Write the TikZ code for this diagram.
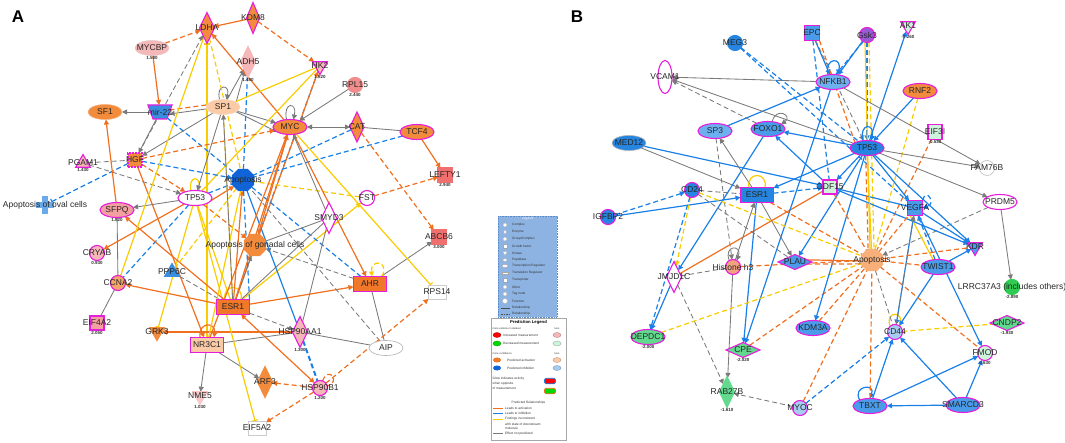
\documentclass[tikz,border=0pt]{standalone}
\usepackage{fontspec}
\setmainfont{Liberation Sans}
\usetikzlibrary{shapes.geometric,shapes.misc,arrows.meta}
\pgfdeclarelayer{bg}\pgfsetlayers{bg,main}
\definecolor{mag}{HTML}{E61EDC}
\definecolor{onode}{HTML}{F28C3C}
\definecolor{onodeb}{HTML}{F7B27E}
\definecolor{onode2}{HTML}{F07828}
\definecolor{peach}{HTML}{FBCBA8}
\definecolor{peachb}{HTML}{F5D9C4}
\definecolor{peachB}{HTML}{F8B07A}
\definecolor{pinkn}{HTML}{F5B7B7}
\definecolor{pinkb}{HTML}{E8C8C8}
\definecolor{pinkm}{HTML}{F4A0A0}
\definecolor{pinkl}{HTML}{F8C8C8}
\definecolor{oranL}{HTML}{F5A56A}
\definecolor{salm}{HTML}{F08C8C}
\definecolor{salmd}{HTML}{F07070}
\definecolor{bluedk}{HTML}{1064D8}
\definecolor{bluen}{HTML}{3A8EE0}
\definecolor{bluel}{HTML}{6AAAE8}
\definecolor{blueB}{HTML}{2585E0}
\definecolor{blueM}{HTML}{4A9CEB}
\definecolor{blueL}{HTML}{6DB0F0}
\definecolor{blueP}{HTML}{A5CDF2}
\definecolor{purp}{HTML}{9A5AD8}
\definecolor{greenL}{HTML}{CDF3DA}
\definecolor{greenM}{HTML}{62DA8E}
\definecolor{greenB}{HTML}{2ECC50}
\definecolor{histc}{HTML}{F3A27E}
\definecolor{eor}{HTML}{F07020}
\definecolor{ebl}{HTML}{1A80E8}
\definecolor{eye}{HTML}{F8CC00}
\definecolor{egr}{HTML}{7A7A7A}
\definecolor{legf}{HTML}{8DB3E2}
\definecolor{legb}{HTML}{5B8ACB}
\newcommand\G[5][]{\node[#2,label={center:#5},#1] (#3) at (#4) {};}
\tikzset{
 gene/.style={inner sep=0pt, outer sep=0pt, line width=1.1pt, draw=mag},
 ell/.style={gene, ellipse, minimum width=34pt, minimum height=15pt},
 rect/.style={gene, rectangle, minimum width=33pt, minimum height=15pt},
 dia/.style={gene, diamond, minimum width=15pt, minimum height=31pt},
 hdia/.style={gene, diamond, minimum width=34pt, minimum height=15pt},
 cir/.style={gene, circle, minimum size=15pt},
 sq/.style={gene, rectangle, minimum size=14pt},
 tdown/.style={gene, regular polygon, regular polygon sides=3, shape border rotate=180, minimum size=17pt},
 tup/.style={gene, regular polygon, regular polygon sides=3, minimum size=17pt},
 oct/.style={gene, regular polygon, regular polygon sides=8, minimum size=23pt},
 trap/.style={gene, trapezium, inner sep=1pt, trapezium angle=70, shape border rotate=180, minimum width=16pt, minimum height=14pt},
 chamf/.style={gene, chamfered rectangle, chamfered rectangle xsep=2.5pt, minimum width=14pt, minimum height=15pt},
 lab/.style={font=\fontsize{8.5}{9}\selectfont, text=black!85},
 val/.style={font=\fontsize{4.5}{5}\selectfont\bfseries, text=black!80, inner sep=1pt},
 every label/.style={lab},
 ln/.style={line width=1.2pt},
 co/.style={ln, draw=eor}, cb/.style={ln, draw=ebl}, cy/.style={ln, draw=eye},
 cg/.style={line width=0.85pt, draw=egr},
 ds/.style={dash pattern=on 5pt off 3pt},
 ar/.style={-{Triangle[length=5pt,width=5pt]}},
 ba/.style={{Triangle[length=5pt,width=5pt]}-{Triangle[length=5pt,width=5pt]}},
 ih/.style={-{Bar[width=6pt]}},
 lt/.style={font=\fontsize{3.2}{3.5}\selectfont, text=black!80, inner sep=0pt},
 ico/.style={draw=gray!70, fill=white, line width=0.3pt, inner sep=0pt},
}
\begin{document}
\begin{tikzpicture}[x=1pt,y=-1pt]
\useasboundingbox (0,0) rectangle (1065,443);
\node[font=\fontsize{17}{17}\selectfont\bfseries] (LA) at (18,17) {A};
\node[font=\fontsize{17}{17}\selectfont\bfseries] (LB) at (577,17) {B};
% ---------- Panel A nodes
\G[fill=onode]{dia}{LDHA}{207,28}{LDHA}
\G[fill=onode,minimum width=13pt]{dia}{KDM8}{253,18}{KDM8}
\G[fill=pinkn,draw=pinkb,line width=.6pt,label={[val]below:1.500}]{ell}{MYCBP}{152,48}{MYCBP}
\G[fill=pinkn,draw=pinkn,label={[val]below:1.480}]{dia}{ADH5}{248,62}{ADH5}
\G[fill=pinkn,label={[val]below:1.820}]{tdown}{HK2}{320,66}{HK2}
\G[fill=salm,draw=salm,label={[val]below:2.440}]{cir}{RPL15}{355,85}{RPL15}
\G[fill=peach,draw=peachb,line width=.6pt]{ell}{SP1}{223,107}{SP1}
\G[fill=onode,draw=onodeb,line width=.6pt]{ell}{SF1}{105,112}{SF1}
\G[fill=bluen]{trap}{MIR}{160,112}{mir-22}
\G[fill=onode]{ell}{MYC}{290,127}{MYC}
\G[fill=onode,minimum width=14pt,minimum height=30pt]{dia}{CAT}{357,127}{CAT}
\G[fill=onode]{ell}{TCF4}{417,132}{TCF4}
\G[fill=salmd,draw=salmd,label={[val]below:2.940}]{sq}{LEFTY1}{445,175}{LEFTY1}
\G[fill=pinkn,label={[val]below:1.430}]{tup}{PGAM1}{83,163}{PGAM1}
\G[fill=onode,dash pattern=on 2pt off 1pt]{sq}{HGF}{135,160}{HGF}
\G[fill=bluedk,draw=bluedk]{oct}{APOA}{243,180}{Apoptosis}
\node[fill=bluel, inner sep=0pt, minimum width=6pt, minimum height=18pt] (OVV) at (45,205) {};
\node[fill=bluel, inner sep=0pt, minimum width=18pt, minimum height=6pt, label={center:Apoptosis of oval cells}] (OVAL) at (45,205) {};
\G[fill=white]{ell}{TP53A}{195,198}{TP53}
\G[fill=pinkm,label={[val]below:1.820}]{ell}{SFPQ}{117,210}{SFPQ}
\G[fill=pinkn,label={[val]below:0.930}]{cir}{CRYAB}{97,253}{CRYAB}
\G[fill=oranL]{cir}{CCNA2}{118,283}{CCNA2}
\G[fill=bluen,draw=bluen]{tup}{PPP6C}{172,272}{PPP6C}
\G[fill=onode,draw=onode]{oct}{APOG}{255,245}{Apoptosis of gonadal cells}
\G[fill=white]{dia}{SMYD3}{329,218}{SMYD3}
\G[fill=white]{cir}{FST}{367,198}{FST}
\G[fill=salmd,draw=salmd,label={[val]below:3.000}]{sq}{ABCB6}{439,237}{ABCB6}
\G[fill=onode2]{rect}{AHR}{370,284}{AHR}
\G[fill=white,draw=gray!40,line width=.6pt,minimum width=18pt,minimum height=14pt]{rect}{RPS14}{437,292}{RPS14}
\G[fill=onode2]{rect}{ESR1A}{233,307}{ESR1}
\G[fill=pinkm,label={[val]below:2.050}]{sq}{EIF4A2}{97,323}{EIF4A2}
\G[fill=onode,draw=onode]{tdown}{GRK3}{157,332}{GRK3}
\G[fill=peach]{rect}{NR3C1}{207,345}{NR3C1}
\G[fill=pinkn,label={[val]below:1.300}]{dia}{HSP90AA1}{300,332}{HSP90AA1}
\G[fill=white,draw=gray!60,line width=.6pt]{ell}{AIP}{386,348}{AIP}
\G[fill=onode,draw=onode]{dia}{ARF3}{265,382}{ARF3}
\G[fill=pinkn,label={[val]below:1.200}]{cir}{HSP90B1}{320,388}{HSP90B1}
\G[fill=pinkl,draw=pinkl,label={[val]below:1.030}]{tdown}{NME5}{200,396}{NME5}
\G[fill=white,draw=gray!40,line width=.6pt,minimum width=18pt,minimum height=14pt]{rect}{EIF5A2}{257,428}{EIF5A2}
% ---------- Panel B nodes
\G[fill=blueB,draw=blueB]{cir}{MEG3}{735,43}{MEG3}
\G[fill=blueM,minimum size=15pt]{sq}{EPC}{812,33}{EPC}
\G[fill=purp]{cir}{GSK3}{867,35}{Gsk3}
\G[fill=greenL,label={[val]below:-0.260}]{tdown}{AK1}{908,26}{AK1}
\G[fill=white,minimum width=14pt,minimum height=33pt]{ell}{VCAM1}{665,77}{VCAM1}
\G[fill=blueL]{ell}{NFKB1}{833,82}{NFKB1}
\G[fill=onode]{ell}{RNF2}{920,91}{RNF2}
\G[fill=greenL,label={[val]below:-0.530}]{chamf}{EIF3I}{935,132}{EIF3I}
\G[fill=blueB]{ell}{TP53B}{867,148}{TP53}
\G[fill=white,draw=gray!50,line width=.6pt]{cir}{FAM76B}{987,168}{FAM76B}
\G[fill=blueL]{ell}{SP3}{715,131}{SP3}
\G[fill=blueM]{ell}{FOXO1}{768,129}{FOXO1}
\G[fill=blueB,draw=gray!60,line width=.6pt]{ell}{MED12}{629,143}{MED12}
\G[fill=blueB]{cir}{CD24}{692,190}{CD24}
\G[fill=blueB]{rect}{ESR1B}{757,195}{ESR1}
\G[fill=greenL]{sq}{GDF15}{830,187}{GDF15}
\G[fill=blueB]{cir}{IGFBP2}{608,217}{IGFBP2}
\G[fill=blueM,minimum size=15pt]{sq}{VEGFA}{915,208}{VEGFA}
\G[fill=white]{ell}{PRDM5}{1000,202}{PRDM5}
\G[fill=blueM]{hdia}{PLAU}{795,262}{PLAU}
\G[fill=histc]{cir}{HIST}{733,267}{Histone h3}
\G[fill=white]{dia}{JMJD1C}{674,277}{JMJD1C}
\G[fill=peachB,draw=peachB]{oct}{APOB}{872,260}{Apoptosis}
\G[fill=blueM]{tdown}{KDR}{975,247}{KDR}
\G[fill=blueM]{ell}{TWIST1}{938,267}{TWIST1}
\G[fill=greenB,draw=greenB,label={[val]below:-2.890}]{cir}{LRRC}{1012,287}{LRRC37A3 (includes others)}
\G[fill=greenM,label={[val]below:-2.000}]{ell}{DEPDC1}{648,337}{DEPDC1}
\G[fill=greenM,label={[val]below:-2.020}]{hdia}{CPE}{743,350}{CPE}
\G[fill=blueM]{ell}{KDM3A}{813,328}{KDM3A}
\G[fill=blueP]{cir}{CD44}{895,332}{CD44}
\G[fill=greenM,label={[val]below:-1.930}]{hdia}{CNDP2}{1007,323}{CNDP2}
\G[fill=greenL,label={[val]below:0.630}]{cir}{FMOD}{985,353}{FMOD}
\G[fill=greenM,draw=greenM,label={[val]below:-1.610}]{dia}{RAB27B}{727,392}{RAB27B}
\G[fill=blueP]{cir}{MYOC}{800,408}{MYOC}
\G[fill=blueM]{ell}{TBXT}{870,406}{TBXT}
\G[fill=blueM]{ell}{SMARCD3}{963,405}{SMARCD3}
% ---------- Edges
\begin{pgfonlayer}{bg}
% Panel A
\draw[co,ar] (KDM8) -- (LDHA);
\draw[co,ds,ar] (MYCBP) -- (LDHA);
\draw[co,ds,ar] (KDM8) -- (HK2);
\draw[co,ar] (MYCBP) -- (MIR);
\draw[cg,ar] (MIR) -- (SF1);
\draw[cg,ar] ([yshift=-2pt]SP1.west) -- ([yshift=-2pt]MIR.east);
\draw[co,ds] ([yshift=2pt]MIR.east) -- ([yshift=2pt]SP1.west);
\draw[cg,ar] (SP1.115) .. controls +(-4,-16) and +(4,-16) .. (SP1.65);
\draw[cg,ar] (SP1) -- (ADH5);
\draw[cg,ar] (SP1.20) -- (ADH5.250);
\draw[cg,ar] (SP1) -- (MYC);
\draw[cg,ar] (SP1.340) -- (MYC.200);
\draw[co,ar] (MYC) -- (LDHA);
\draw[cy,ih] (NR3C1) -- (LDHA);
\draw[cy,ds] (LDHA) -- (APOA);
\draw[cg,ds,ar] (HGF) -- (LDHA);
\draw[cb,ds] (ADH5) -- (APOA);
\draw[cy] (HK2) -- (SP1);
\draw[cy] (HK2) -- (TP53A);
\draw[cb,ds] (HK2) -- (APOG);
\draw[co,ar] (ESR1A) -- (HK2);
\draw[cg,ar] (RPL15) -- (MYC);
\draw[cg,ba] (CAT) -- (MYC);
\draw[cg] (TCF4) -- (CAT);
\draw[co,ar] (TCF4) -- (LEFTY1);
\draw[cb,ds] (TCF4) -- (APOA);
\draw[cb,ds] (CAT) -- (APOA);
\draw[cg,ar] (MYC.115) .. controls +(-4,-18) and +(4,-18) .. (MYC.65);
\draw[co,ds,ar] (FST) -- (LEFTY1);
\draw[co,ds,ar] (CAT) -- (ABCB6);
\draw[cg,ar] (AHR) -- (ABCB6);
\draw[cy,ds,ar] ([xshift=12pt]AHR.north) .. controls +(8,-16) and +(-2,-18) .. ([xshift=2pt]AHR.north);
\draw[cy,ih] (MYC) -- (RPS14);
\draw[cy,ar] (ESR1A) -- (FST);
\draw[cy,ds] (FST) -- (APOA);
\draw[cb,ds] (AHR) -- (APOA);
\draw[co,ar] (MYC) -- (AHR);
\draw[co,ar] (ESR1A) -- (AHR);
\draw[cg] (SMYD3) -- (APOG);
\draw[cg] (SMYD3) -- (HSP90AA1);
\draw[cg,ar] (SMYD3) -- (MYC);
\draw[cg] (ESR1A) -- (SMYD3);
\draw[cg,ds,ar] (AHR) -- (APOG);
\draw[cb,ds,line width=2pt] (HSP90AA1) -- (HSP90B1);
\draw[cg] (HSP90AA1) -- (AIP);
\draw[cg] (AIP) -- (AHR);
\draw[cg,ds] (AIP) -- (APOA);
\draw[co,ds,ar] (HSP90B1) -- (RPS14);
\draw[co,ds,ar] (HSP90B1) -- (EIF5A2);
\draw[co,ds,ar] (HSP90B1) -- (ARF3);
\draw[co,ds] (HSP90B1.70) .. controls +(6,-16) and +(14,-4) .. (HSP90B1.15);
\draw[co,ba] (ESR1A) -- (HSP90B1);
\draw[cg,ar] (NR3C1) -- (ARF3);
\draw[cg,ar] (NR3C1) -- (NME5);
\draw[co,ar] ([xshift=-7pt]NR3C1.north) .. controls +(-2,-16) and +(2,-16) .. ([xshift=7pt]NR3C1.north);
\draw[co,ar] (HSP90AA1) -- (GRK3);
\draw[cg] (NR3C1) -- (HSP90AA1);
\draw[cg,ds,ar] (ESR1A) -- (HSP90AA1);
\draw[co,ar] (HGF) -- (NR3C1);
\draw[cy,ih] (TP53A) -- (EIF5A2);
\draw[cy,ih] (TP53A) -- (GRK3);
\draw[cg] (EIF4A2) -- (CCNA2);
\draw[co,ar] (ESR1A) -- (CCNA2);
\draw[cg] (SFPQ) -- (CCNA2);
\draw[cg,ar] (TP53A) -- (SFPQ);
\draw[co,ar] (TP53A) -- (CRYAB);
\draw[cb,ds] (TP53A) -- (CCNA2);
\draw[co,ds,ar] (HGF) -- (TP53A);
\draw[cb,ds,ih] (HGF) -- (OVAL);
\draw[cg,ds] (PGAM1) -- (HGF);
\draw[cg,ds,ar] (PGAM1) -- (TP53A);
\draw[cb,ds,ar] (HGF) -- (APOA);
\draw[cg,ar] (MIR) -- (HGF);
\draw[co,ar] (SFPQ) -- (SF1);
\draw[co,ar] (ESR1A) -- (SFPQ);
\draw[cb,ds] (MIR) -- (APOA);
\draw[co,ds,ar] (HGF) -- (MYC);
\draw[cy] (TP53A.120) .. controls +(-3,-16) and +(3,-16) .. (TP53A.60);
\draw[cb,ds] (TP53A.20) -- (APOA.200);
\draw[co,ar] (TP53A.350) -- (APOA.215);
\draw[cy] ([xshift=-8pt]ESR1A.north) .. controls +(-3,-16) and +(3,-16) .. ([xshift=8pt]ESR1A.north);
\draw[co,ds,ar] (TP53A) -- (APOG);
\draw[cg,ar] (ESR1A) -- (APOG);
\draw[cg,ds] (PPP6C) -- (ESR1A);
\draw[cy] (TP53A) -- (ESR1A);
\draw[co,ar] (ESR1A) -- (APOA);
\draw[cb] (APOA) -- (HSP90AA1);
\draw[cb,ds] (APOA) -- (ESR1A.north east);
\draw[cy] (APOA) -- (NR3C1);
\draw[cg,ar] (SP1) -- (HGF);
\draw[co,ar] (ESR1A) -- (MYC);
\draw[co,ar] (NR3C1) -- (MYC);
\draw[co,ar] (MYC) -- (APOG);
\draw[cy,ds] (SP1) -- (ESR1A);
\draw[cg,ar] (ESR1A) -- (SP1);
\draw[cy,ds] (APOA) -- (PPP6C);
\draw[cg,ar] (SP1) -- (TP53A);
\draw[cy] (LDHA) -- (CCNA2);
% Panel B
\draw[cb,ar] (EPC) -- (NFKB1);
\draw[cg,ds,ar] (EPC) -- (TP53B);
\draw[co,ds] (EPC.south east) -- (TP53B.north west);
\draw[cb,ds] (EPC) -- (GDF15);
\draw[cb,ar] (GSK3) -- (NFKB1);
\draw[cb,ds] (GSK3.240) -- (NFKB1.70);
\draw[cb,ds,ar] (GSK3) -- (TP53B);
\draw[cy] ([xshift=-2pt]GSK3.south) -- ([xshift=-2pt]APOB.north);
\draw[cy,ds] ([xshift=2pt]GSK3.south) -- ([xshift=2pt]APOB.north);
\draw[cb,ar] (TP53B) -- (AK1);
\draw[cb,ar] (RNF2) -- (TP53B);
\draw[cy,ds] (RNF2) -- (APOB);
\draw[co,ds] (EIF3I) -- (APOB);
\draw[cb,ar] (NFKB1.125) .. controls +(-4,-18) and +(6,-18) .. (NFKB1.60);
\draw[cg,ar] (NFKB1) -- (VCAM1);
\draw[cg,ar] (NFKB1) -- (FAM76B);
\draw[cg,ar] (TP53B) -- (FAM76B);
\draw[cg,ar] (TP53B) -- (PRDM5);
\draw[cg,ar] (PRDM5) -- (LRRC);
\draw[cg,ds,ar] (PRDM5) -- (APOB);
\draw[cb,ds] (MEG3) -- (TP53B);
\draw[cb,ds] (MEG3) -- (VEGFA);
\draw[cb,ar] (SP3) -- (NFKB1);
\draw[cg,ar] (FOXO1.60) .. controls +(4,-16) and +(12,-8) .. (FOXO1.20);
\draw[cg,ds,ar] (FOXO1) -- (VCAM1);
\draw[cg,ar] (TP53B) -- (VCAM1);
\draw[cb,ar] (MED12) -- (GDF15);
\draw[cg,ar] (MED12) -- (ESR1B);
\draw[cb,ar] (TP53B) -- (FOXO1);
\draw[cg,ds,ar] (SP3) -- (HIST);
\draw[cg,ar] (ESR1B) -- (SP3);
\draw[cb,ds,ar] (IGFBP2) -- (CD24);
\draw[cb,ar] (IGFBP2) -- (ESR1B);
\draw[cg,ds] (CD24) -- (ESR1B);
\draw[cy,ds,ar] (CD24) -- (JMJD1C);
\draw[cb,ds,ar] (CD24) -- (DEPDC1);
\draw[cb,ar] (JMJD1C) -- (DEPDC1);
\draw[co] (GDF15) -- (JMJD1C);
\draw[cg,ds] (HIST) -- (JMJD1C);
\draw[cg,ds,ar] (JMJD1C) -- (RAB27B);
\draw[cg,ar] (HIST.120) .. controls +(-6,-16) and +(6,-16) .. (HIST.60);
\draw[cg,ar] (HIST) -- (RAB27B);
\draw[cb,ar] (ESR1B) -- (CPE);
\draw[cb,ar] (NFKB1) -- (CPE);
\draw[cb,ar] (FOXO1) -- (JMJD1C);
\draw[co,ds] (CPE) -- (APOB);
\draw[cy,ds] (DEPDC1) -- (APOB);
\draw[cg,ds,ar] (MYOC) -- (RAB27B);
\draw[co,ds] (MYOC) -- (APOB);
\draw[cb,ds,ar] (MYOC) -- (CD44);
\draw[cb,ar] (TP53B) -- (KDM3A);
\draw[cy] (CD44.130) .. controls +(-6,-16) and +(6,-16) .. (CD44.50);
\draw[cy,ds] (CD44) -- (CNDP2);
\draw[cb,ar] (TBXT.150) .. controls +(-8,-14) and +(6,-16) .. (TBXT.90);
\draw[cb,ar] (TBXT) -- (CD44);
\draw[cb,ar] (TBXT) -- (FMOD);
\draw[cb,ar] (SMARCD3) -- (TBXT);
\draw[cb,ar] (SMARCD3) -- (CD44);
\draw[cb,ar] (SMARCD3) -- (FMOD);
\draw[co,ds] (TBXT) -- (APOB);
\draw[cb,ar] (TWIST1) -- (KDR);
\draw[cb,ar] (TWIST1) -- (CD44);
\draw[cb,ar] (VEGFA) -- (CD44);
\draw[cb,ar] (VEGFA) -- (KDR);
\draw[cb,ds,ar] (VEGFA.north east) .. controls +(4,-14) and +(14,-4) .. (VEGFA.east);
\draw[cb,ds,ar] (TWIST1) -- (VEGFA);
\draw[cy] ([xshift=-5pt]TWIST1.north) -- ([xshift=-5pt]VEGFA.south);
\draw[cb,ar] (TP53B) -- (VEGFA);
\draw[cb,ar] (TP53B) -- (KDR);
\draw[cb,ar] (VEGFA) -- (FMOD);
\draw[cb,ar] (GDF15) -- (KDR);
\draw[cg,ar] (ESR1B) -- (PLAU);
\draw[cb,ar] (TP53B) -- (PLAU);
\draw[co] (PLAU.10) -- (APOB.185);
\draw[co,ds] (PLAU.350) -- (APOB.200);
\draw[co,ds] (APOB) -- (KDR);
\draw[co,ds] (APOB) -- (TWIST1);
\draw[co,ds] (APOB) -- (VEGFA);
\draw[co,ds] (APOB) -- (FMOD);
\draw[cg,ds,ar] (CD44) -- (VEGFA);
\draw[cb,ar] (TP53B.120) .. controls +(-4,-18) and +(4,-18) .. (TP53B.60);
\draw[cb,ar] (TP53B) -- (GDF15);
\draw[cb] (GDF15) -- (VEGFA);
\draw[cb,ds,ar] (ESR1B) -- (GDF15);
\draw[cy] ([xshift=-8pt]ESR1B.north) .. controls +(-3,-16) and +(3,-16) .. ([xshift=8pt]ESR1B.north);
\draw[co,ds] (HIST) -- (APOB);
\draw[co,ds] (ESR1B) -- (APOB);
\draw[co,ds] (TP53B.260) -- (APOB.110);
\draw[co,ds] (GDF15) -- (APOB);
\draw[co,ds] (KDM3A) -- (APOB);
\draw[cy,ds] (CD24) -- (APOB);
\draw[cy] (TP53B) -- (APOB);
\draw[cg,ds] (CD24) -- (PLAU);
\draw[cg,ar] (HIST) -- (ESR1B);
\draw[cb,ar] (TP53B) -- (ESR1B);
\draw[cb,ar] (GDF15) -- (FOXO1);
\draw[cg,ds] (APOB) -- (CD44);
\end{pgfonlayer}
% ---------- Legend
\node[draw=legb, fill=legf, line width=0.5pt, dash pattern=on 1pt off 0.6pt, minimum width=59pt, minimum height=101pt, inner sep=0pt] (LEG) at (527.5,266.5) {};
\node[lt, text=white] (LEGT) at (527.5,219) {Legend};
\foreach \yy/\tx [count=\i] in {225/Complex, 232/Enzyme, 239/{Group/Complex}, 246/Growth factor, 253/Kinase, 260/Peptidase, 266/Transcription Regulator, 273/Translation Regulator, 280/Transporter, 287/Other, 294/Tag node, 301/Function, 308/Relationship, 314/Relationship}
  {\node[lt, anchor=west] (LT\i) at (512,\yy) {\tx};}
\node[ico, circle, minimum size=4pt] (LI1) at (505,225) {};
\node[ico, diamond, minimum width=3pt, minimum height=5pt] (LI2) at (505,232) {};
\node[ico, circle, minimum size=4pt] (LI3) at (505,239) {};
\node[ico, rectangle, minimum size=3.5pt] (LI4) at (505,246) {};
\node[ico, regular polygon, regular polygon sides=3, shape border rotate=180, minimum size=5pt] (LI5) at (505,253) {};
\node[ico, diamond, minimum width=6pt, minimum height=3pt] (LI6) at (505,260) {};
\node[ico, ellipse, minimum width=6pt, minimum height=3pt] (LI7) at (505,266) {};
\node[ico, rectangle, minimum width=6pt, minimum height=2.5pt] (LI8) at (505,273) {};
\node[ico, rectangle, minimum width=4pt, minimum height=4pt] (LI9) at (505,280) {};
\node[ico, circle, minimum size=4pt] (LI10) at (505,287) {};
\node[ico, circle, minimum size=4pt] (LI11) at (505,294) {};
\node[ico, regular polygon, regular polygon sides=8, minimum size=5pt] (LI12) at (505,301) {};
\coordinate (LR1a) at (501,308); \coordinate (LR1b) at (510,308);
\coordinate (LR2a) at (501,314); \coordinate (LR2b) at (510,314);
\draw[black!70, line width=0.4pt] (LR1a) -- (LR1b);
\draw[black!70, line width=0.4pt, dash pattern=on 1.5pt off 1pt] (LR2a) -- (LR2b);
% Prediction legend
\node[draw=gray!70, fill=white, line width=0.5pt, minimum width=75pt, minimum height=122pt, inner sep=0pt] (PL) at (528.5,379) {};
\node[font=\fontsize{4.2}{4.5}\selectfont\bfseries, inner sep=0pt] (PLT) at (528.5,322.5) {Prediction Legend};
\node[lt, font=\fontsize{2.6}{3}\selectfont, anchor=west] (PL1) at (492.5,328.5) {more extreme in dataset};
\node[lt, font=\fontsize{2.6}{3}\selectfont] (PL1b) at (557,328.5) {less};
\node[draw=red!70!black, fill=red, ellipse, minimum width=8pt, minimum height=5pt, inner sep=0pt, line width=0.3pt] (PE1) at (497,335) {};
\node[lt, anchor=west] (PT1) at (503,335) {Increased measurement};
\node[draw=pinkn!70!black, fill=pinkn, ellipse, minimum width=8pt, minimum height=5pt, inner sep=0pt, line width=0.3pt] (PE1b) at (557,335) {};
\node[draw=green!60!black, fill=green!85!black, ellipse, minimum width=8pt, minimum height=5pt, inner sep=0pt, line width=0.3pt] (PE2) at (497,343.5) {};
\node[lt, anchor=west] (PT2) at (503,343.5) {Decreased measurement};
\node[draw=greenL!70!black, fill=greenL, ellipse, minimum width=8pt, minimum height=5pt, inner sep=0pt, line width=0.3pt] (PE2b) at (557,343.5) {};
\node[lt, font=\fontsize{2.6}{3}\selectfont, anchor=west] (PL2) at (492.5,353.5) {more confidence};
\node[lt, font=\fontsize{2.6}{3}\selectfont] (PL2b) at (557,353.5) {less};
\node[fill=onode2, ellipse, minimum width=8pt, minimum height=5pt, inner sep=0pt] (PE3) at (497,360) {};
\node[lt, anchor=west] (PT3) at (507,360) {Predicted activation};
\node[draw=peach!70!black, fill=peach, ellipse, minimum width=8pt, minimum height=5pt, inner sep=0pt, line width=0.3pt] (PE3b) at (557,360) {};
\node[fill=bluedk, ellipse, minimum width=8pt, minimum height=5pt, inner sep=0pt] (PE4) at (497,368) {};
\node[lt, anchor=west] (PT4) at (507,368) {Predicted inhibition};
\node[draw=blueP!70!black, fill=blueP, ellipse, minimum width=8pt, minimum height=5pt, inner sep=0pt, line width=0.3pt] (PE4b) at (557,368) {};
\node[lt, anchor=west] (PG1) at (492.5,379) {Glow indicates activity};
\node[lt, anchor=west] (PG2) at (492.5,384) {when opposite};
\node[lt, anchor=west] (PG3) at (492.5,388.5) {of measurement};
\node[draw=ebl, fill=red, rounded corners=1.5pt, line width=0.8pt, minimum width=11pt, minimum height=5.5pt, inner sep=0pt] (PR1) at (550,381) {};
\node[draw=eor, fill=green!85!black, rounded corners=1.5pt, line width=0.8pt, minimum width=11pt, minimum height=5.5pt, inner sep=0pt] (PR2) at (550,391) {};
\node[lt] (PRT) at (528.5,402.5) {Predicted Relationships};
\coordinate (PLo1) at (493,408.5); \coordinate (PLo2) at (503,408.5);
\coordinate (PLb1) at (493,413.5); \coordinate (PLb2) at (503,413.5);
\coordinate (PLy1) at (493,419); \coordinate (PLy2) at (503,419);
\coordinate (PLg1) at (493,433.5); \coordinate (PLg2) at (503,433.5);
\draw[draw=eor, line width=0.8pt] (PLo1) -- (PLo2);
\draw[draw=ebl, line width=0.8pt] (PLb1) -- (PLb2);
\draw[draw=eye, line width=0.8pt] (PLy1) -- (PLy2);
\draw[draw=egr, line width=0.8pt] (PLg1) -- (PLg2);
\node[lt, anchor=west] (PRL1) at (505,408.5) {Leads to activation};
\node[lt, anchor=west] (PRL2) at (505,413.5) {Leads to inhibition};
\node[lt, anchor=west] (PRL3) at (505,419) {Findings inconsistent};
\node[lt, anchor=west] (PRL4) at (505,424) {with state of downstream};
\node[lt, anchor=west] (PRL5) at (505,428.5) {molecule};
\node[lt, anchor=west] (PRL6) at (505,433.5) {Effect not predicted};
\end{tikzpicture}
\end{document}
